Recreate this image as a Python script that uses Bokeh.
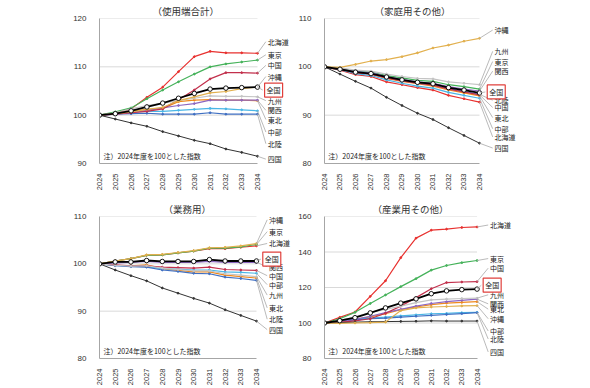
import math
from bokeh.plotting import figure
from bokeh.layouts import gridplot
from bokeh.models import Range1d, FixedTicker, Label, Arrow
from bokeh.embed import file_html
from bokeh.resources import INLINE

YEARS = [2024, 2025, 2026, 2027, 2028, 2029, 2030, 2031, 2032, 2033, 2034]
REGIONS = ["北海道", "東北", "東京", "中部", "北陸", "関西", "中国", "四国", "九州", "沖縄", "全国"]
TITLES = ["（使用端合計）", "（家庭用その他）", "（業務用）", "（産業用その他）"]
NOTE = "注）2024年度を100とした指数"

# --- (使用端合計) ---
tot_hokkaido = [100, 100.5, 101.3, 103.7, 105.8, 109.0, 112.1, 113.2, 112.9, 112.9, 112.8]
tot_tohoku = [100, 100.3, 100.8, 101.2, 101.4, 102.8, 103.1, 103.2, 103.1, 103.1, 103.0]
tot_tokyo = [100, 100.7, 101.5, 103.4, 105.2, 106.9, 108.5, 110.0, 110.6, 111.0, 111.4]
tot_chubu = [100, 100.3, 100.6, 100.8, 100.8, 101.0, 101.2, 101.4, 101.3, 101.1, 100.9]
tot_hokuriku = [100, 100.2, 100.3, 100.4, 100.2, 100.2, 100.2, 100.5, 100.2, 100.2, 100.2]
tot_kansai = [100, 100.2, 100.5, 101.0, 101.5, 102.0, 102.4, 103.1, 103.1, 103.1, 103.1]
tot_chugoku = [100, 100.2, 100.5, 100.8, 101.3, 103.2, 105.2, 107.5, 108.8, 108.8, 108.7]
tot_shikoku = [100, 99.2, 98.4, 97.7, 96.6, 95.7, 94.8, 94.1, 93.0, 92.3, 91.5]
tot_kyushu = [100, 100.5, 101.3, 102.0, 102.5, 103.0, 103.5, 104.0, 103.9, 103.9, 103.8]
tot_okinawa = [100, 100.3, 100.7, 101.2, 101.6, 103.0, 103.8, 104.6, 104.9, 105.5, 105.8]
tot_national = [100, 100.3, 100.9, 101.7, 102.5, 103.5, 104.5, 105.4, 105.6, 105.7, 105.8]

# --- (家庭用その他) ---
res_hokkaido = [100, 99.3, 98.4, 98.0, 96.9, 96.3, 95.7, 95.2, 94.1, 93.4, 92.7]
res_tohoku = [100, 99.6, 98.9, 98.5, 97.6, 97.0, 96.5, 96.0, 95.2, 94.6, 94.0]
res_tokyo = [100, 99.7, 99.1, 98.9, 98.2, 97.7, 97.2, 97.0, 96.3, 95.9, 95.4]
res_chubu = [100, 99.4, 98.6, 98.2, 97.3, 96.6, 96.0, 95.6, 94.7, 94.1, 93.5]
res_hokuriku = [100, 99.5, 98.9, 98.6, 97.8, 97.2, 96.6, 96.3, 95.5, 94.9, 94.3]
res_kansai = [100, 99.6, 99.0, 98.8, 98.0, 97.4, 96.9, 96.6, 95.9, 95.4, 95.0]
res_chugoku = [100, 99.5, 98.8, 98.5, 97.7, 97.1, 96.6, 96.2, 95.4, 94.8, 94.2]
res_shikoku = [100, 98.5, 97.0, 95.6, 93.7, 92.0, 90.4, 89.1, 87.4, 85.8, 84.2]
res_kyushu = [100, 99.8, 99.3, 99.1, 98.5, 98.0, 97.6, 97.5, 96.9, 96.6, 96.3]
res_okinawa = [100, 99.9, 100.5, 101.2, 101.5, 102.1, 102.9, 103.9, 104.5, 105.3, 105.9]
res_national = [100, 99.5, 98.9, 98.6, 97.9, 97.3, 96.8, 96.5, 95.7, 95.2, 94.6]

# --- (業務用) ---
com_hokkaido = [100, 100.6, 101.1, 101.8, 101.9, 102.3, 102.7, 103.2, 103.2, 103.5, 103.8]
com_tohoku = [100, 99.7, 99.6, 99.8, 99.0, 98.6, 98.3, 98.3, 97.6, 97.3, 97.0]
com_tokyo = [100, 100.6, 101.1, 101.8, 101.9, 102.3, 102.7, 103.3, 103.3, 103.6, 104.1]
com_chubu = [100, 99.7, 99.5, 99.4, 99.0, 98.9, 98.7, 98.7, 98.3, 98.2, 98.0]
com_hokuriku = [100, 99.6, 99.4, 99.3, 98.7, 98.4, 98.0, 97.9, 97.2, 96.9, 96.5]
com_kansai = [100, 100.2, 100.3, 100.5, 100.3, 100.3, 100.3, 100.5, 100.3, 100.3, 100.3]
com_chugoku = [100, 99.8, 99.6, 99.6, 99.3, 99.2, 99.1, 99.3, 98.8, 98.7, 98.6]
com_shikoku = [100, 98.7, 97.5, 96.4, 94.9, 93.8, 92.7, 91.7, 90.3, 89.1, 87.9]
com_kyushu = [100, 99.7, 99.5, 99.6, 99.1, 98.8, 98.5, 98.5, 97.9, 97.6, 97.3]
com_okinawa = [100, 100.6, 101.1, 101.9, 102.0, 102.4, 102.8, 103.4, 103.5, 103.8, 104.3]
com_national = [100, 100.4, 100.4, 100.7, 100.5, 100.5, 100.5, 100.9, 100.6, 100.6, 100.6]

# --- (産業用その他) ---
ind_hokkaido = [100, 103.2, 106.2, 115.0, 123.8, 136.8, 147.8, 152.3, 152.9, 153.8, 154.1]
ind_tohoku = [100, 100.8, 102.0, 103.5, 105.2, 107.5, 109.0, 110.3, 111.2, 111.6, 112.0]
ind_tokyo = [100, 102.4, 106.0, 111.0, 115.8, 120.5, 125.0, 129.8, 132.4, 134.0, 135.2]
ind_chubu = [100, 101.2, 102.3, 102.8, 103.3, 104.0, 104.6, 105.2, 105.4, 105.8, 106.0]
ind_hokuriku = [100, 100.8, 101.8, 102.4, 102.8, 103.3, 103.8, 104.3, 104.8, 105.3, 105.8]
ind_kansai = [100, 100.8, 102.0, 103.8, 105.8, 107.7, 109.5, 111.0, 112.0, 112.8, 113.4]
ind_chugoku = [100, 100.3, 101.2, 102.4, 105.5, 109.5, 114.3, 119.3, 122.8, 123.1, 123.3]
ind_shikoku = [100, 100.2, 100.5, 100.7, 100.8, 100.9, 101.0, 101.2, 101.1, 101.1, 101.1]
ind_kyushu = [100, 101.3, 103.5, 106.0, 107.7, 109.5, 111.5, 113.0, 113.5, 113.8, 114.0]
ind_okinawa = [100, 99.8, 100.0, 100.2, 100.5, 107.0, 108.5, 109.0, 109.3, 109.6, 109.8]
ind_national = [100, 101.3, 103.0, 105.7, 108.5, 111.2, 113.6, 116.5, 118.1, 118.8, 119.1]

# y-axis ticks per panel
tot_yticks = [90, 100, 110, 120]
res_yticks = [80, 90, 100, 110]
com_yticks = [80, 90, 100, 110]
ind_yticks = [80, 100, 120, 140, 160]

# ---- layout: callout label anchor heights, in each panel's value units ----
tot_label_y = {"北海道": 115.2, "東京": 112.5, "中国": 110.3, "沖縄": 108.0, "全国": 105.2, "九州": 103.0,
               "関西": 101.0, "東北": 99.1, "中部": 96.5, "北陸": 94.1, "四国": 90.9}
res_label_y = {"沖縄": 107.6, "九州": 103.2, "東京": 101.1, "関西": 99.1, "全国": 94.8, "北陸": 93.1,
               "中国": 91.6, "東北": 89.5, "中部": 87.2, "北海道": 85.5, "四国": 83.2}
com_label_y = {"沖縄": 109.3, "東京": 106.8, "北海道": 104.3, "全国": 101.0, "関西": 99.4, "中国": 97.5,
               "中部": 95.6, "九州": 93.4, "東北": 90.7, "北陸": 88.3, "四国": 86.1}
ind_label_y = {"北海道": 155.2, "東京": 136.3, "中国": 130.9, "全国": 121.3, "九州": 115.9, "関西": 110.8,
               "東北": 107.8, "沖縄": 102.4, "中部": 95.5, "北陸": 91.0, "四国": 83.7}

COLORS = {"北海道": "#e8312f", "東北": "#ef8a1e", "東京": "#45b25a", "中部": "#4ab6e6",
          "北陸": "#3f6fc2", "関西": "#8c66c0", "中国": "#c2304c", "四国": "#333333",
          "九州": "#c4c4c4", "沖縄": "#e2b04e", "全国": "#000000"}

FONT = "Noto Sans CJK JP"
NUMFONT = "Liberation Sans"


def panel(title, series, label_y, yticks, width, height, bl, bt, bb, data_w, frame_w,
          title_offset, label_dx, nat_dx):
    y0, y1 = yticks[0], yticks[-1]
    x0, x1 = YEARS[0], YEARS[-1]
    x_end = x0 + (x1 - x0) * frame_w / data_w
    br = width - bl - frame_w
    p = figure(width=width, height=height, output_backend="svg", toolbar_location=None,
               x_range=Range1d(x0, x_end), y_range=Range1d(y0, y1),
               min_border_left=bl, min_border_right=br, min_border_top=bt, min_border_bottom=bb)
    p.outline_line_color = None
    p.background_fill_color = "white"
    p.border_fill_color = "white"
    p.xgrid.visible = False
    p.ygrid.visible = False
    # horizontal grid lines, only across the data span
    for t in yticks[1:]:
        p.line([x0, x1], [t, t], line_color="#d9d9d9", line_width=1)
    p.xaxis.ticker = FixedTicker(ticks=YEARS)
    p.xaxis.bounds = (x0, x1)
    p.yaxis.ticker = FixedTicker(ticks=yticks)
    for ax in (p.xaxis, p.yaxis):
        ax.axis_line_color = "#a6a6a6"
        ax.major_tick_line_color = None
        ax.minor_tick_line_color = None
        ax.major_label_text_font = NUMFONT
        ax.major_label_text_color = "#333333"
    p.yaxis.major_label_text_font_size = "8px"
    p.xaxis.major_label_text_font_size = "7.5px"
    p.xaxis.major_label_orientation = math.pi / 2
    p.xaxis.major_label_standoff = 4
    p.yaxis.major_label_standoff = 7

    p.title.text = title
    p.title.text_font = FONT
    p.title.text_font_size = "9.5px"
    p.title.text_font_style = "normal"
    p.title.text_color = "#333333"
    p.title.align = "left"
    p.title.offset = title_offset
    p.title.standoff = 2

    for name in REGIONS:
        if name == "全国":
            continue
        vals = series[name]
        col = COLORS[name]
        lw = 1.0 if name == "四国" else 1.2
        p.line(YEARS, vals, line_color=col, line_width=lw)
        p.scatter(YEARS, vals, size=1.8, color=col)
    nat = series["全国"]
    p.line(YEARS, nat, line_color="#000000", line_width=1.8)
    p.scatter(YEARS, nat, size=4.5, fill_color="white", line_color="#000000", line_width=0.9)

    # callout labels with leader lines
    lx = x1 + label_dx
    for name in REGIONS:
        ly = label_y[name]
        if name == "全国":
            p.add_layout(Arrow(end=None, x_start=x1, y_start=series[name][-1],
                               x_end=x1 + nat_dx - 0.12, y_end=ly,
                               line_color="#a8a8a8", line_width=0.8))
            p.add_layout(Label(x=x1 + nat_dx, y=ly, text=name, text_font=FONT, text_font_size="7px",
                               text_baseline="middle", text_color="#222222",
                               border_line_color="#e0403c", border_line_width=1.2,
                               background_fill_color="white", padding=2))
        else:
            p.add_layout(Arrow(end=None, x_start=x1, y_start=series[name][-1],
                               x_end=lx - 0.12, y_end=ly, line_color="#a8a8a8", line_width=0.8))
            p.add_layout(Label(x=lx, y=ly, text=name, text_font=FONT, text_font_size="7px",
                               text_baseline="middle", text_color="#222222"))

    p.add_layout(Label(x=x0 + 0.25, y=y0 + 0.05 * (y1 - y0), text=NOTE, text_font=FONT,
                       text_font_size="7px", text_baseline="middle", text_color="#222222"))
    return p


def pack(h, th, tk, ch, cn, ks, kw, sk, ky, ok, na):
    return {"北海道": h, "東北": th, "東京": tk, "中部": ch, "北陸": cn, "関西": ks,
            "中国": kw, "四国": sk, "九州": ky, "沖縄": ok, "全国": na}


tot = pack(tot_hokkaido, tot_tohoku, tot_tokyo, tot_chubu, tot_hokuriku, tot_kansai,
           tot_chugoku, tot_shikoku, tot_kyushu, tot_okinawa, tot_national)
res = pack(res_hokkaido, res_tohoku, res_tokyo, res_chubu, res_hokuriku, res_kansai,
           res_chugoku, res_shikoku, res_kyushu, res_okinawa, res_national)
com = pack(com_hokkaido, com_tohoku, com_tokyo, com_chubu, com_hokuriku, com_kansai,
           com_chugoku, com_shikoku, com_kyushu, com_okinawa, com_national)
ind = pack(ind_hokkaido, ind_tohoku, ind_tokyo, ind_chubu, ind_hokuriku, ind_kansai,
           ind_chugoku, ind_shikoku, ind_kyushu, ind_okinawa, ind_national)

p1 = panel(TITLES[0], tot, tot_label_y, tot_yticks, 295, 194, 99, 16, 31, 158, 194, 53, 0.65, 0.45)
p2 = panel(TITLES[1], res, res_label_y, res_yticks, 295, 194, 25, 17, 30, 158, 210, 50, 0.97, 0.5)
p3 = panel(TITLES[2], com, com_label_y, com_yticks, 295, 194, 99, 22, 26, 157, 194, 64, 0.8, 0.4)
p4 = panel(TITLES[3], ind, ind_label_y, ind_yticks, 295, 194, 23, 21, 25, 157, 212, 48, 0.85, 0.4)

grid = gridplot([[p1, p2], [p3, p4]], toolbar_location=None)
open("out.html", "w").write(file_html(grid, INLINE))
